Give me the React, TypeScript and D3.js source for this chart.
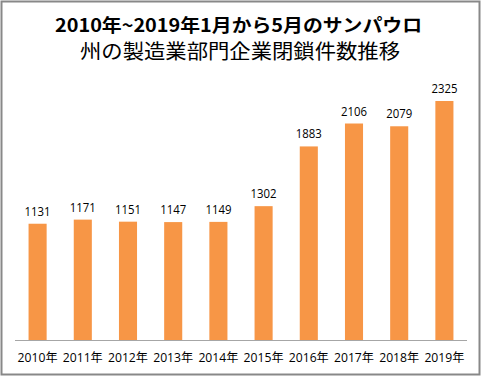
import React from "react";
import * as d3 from "d3";

const categories = ["2010年", "2011年", "2012年", "2013年", "2014年", "2015年", "2016年", "2017年", "2018年", "2019年"];
const values = [1131, 1171, 1151, 1147, 1149, 1302, 1883, 2106, 2079, 2325];
const titleLine1 = "2010年~2019年1月から5月のサンパウロ";
const titleLine2 = "州の製造業部門企業閉鎖件数推移";

const W = 483;
const H = 377;
const FONT = "'Open Sans', 'Noto Sans CJK JP', sans-serif";
const CJK = "'Noto Sans CJK JP', sans-serif";

export default function App() {
  const x = d3.scaleBand<string>().domain(categories).range([15, 467]).paddingInner(0.6).paddingOuter(0.3);
  const y = d3.scaleLinear().domain([0, 2500]).range([340, 83]);

  return (
    <svg width={W} height={H} style={{ position: "absolute", left: 0, top: 0 }}>
      <rect x={0} y={0} width={W} height={H} fill="#fff" />
      <rect x={1.5} y={1.5} width={478} height={373} fill="none" stroke="#888" strokeWidth={2} />
      <text x={238.5} y={32} textAnchor="middle" fontFamily={CJK} fontWeight="bold" fontSize={18}
        textLength={367} lengthAdjust="spacingAndGlyphs" fill="#000">{titleLine1}</text>
      <text x={240} y={59} textAnchor="middle" fontFamily={CJK} fontSize={20}
        textLength={320} lengthAdjust="spacingAndGlyphs" fill="#000">{titleLine2}</text>
      {categories.map((c, i) => (
        <g key={c}>
          <rect x={x(c)} y={y(values[i])} width={x.bandwidth()} height={y(0) - y(values[i])} fill="#F79646" />
          <text x={(x(c) as number) + x.bandwidth() / 2} y={y(values[i]) - 8} textAnchor="middle"
            fontFamily={FONT} fontSize={12} textLength={26} lengthAdjust="spacingAndGlyphs" fill="#000">{values[i]}</text>
          <text x={(x(c) as number) + x.bandwidth() / 2} y={362} textAnchor="middle"
            fontFamily={FONT} fontSize={12} textLength={40} lengthAdjust="spacingAndGlyphs" fill="#000">{c}</text>
        </g>
      ))}
      <line x1={15} x2={467} y1={340.5} y2={340.5} stroke="#A6A6A6" strokeWidth={1} />
    </svg>
  );
}
